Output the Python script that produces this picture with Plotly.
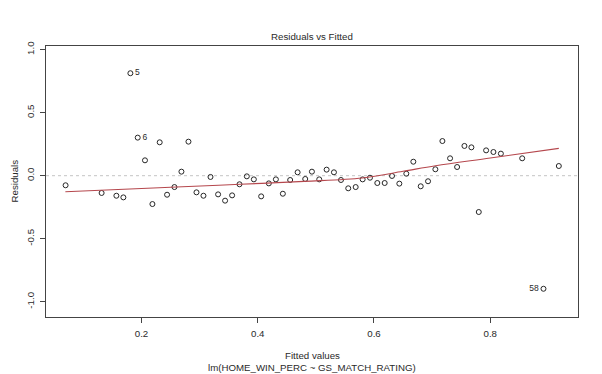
import plotly.graph_objects as go

# Fitted values and residuals
fitted = [0.0694, 0.1314, 0.1568, 0.1688, 0.1809, 0.1935, 0.2060, 0.2188, 0.2313, 0.2440,
          0.2567, 0.2687, 0.2808, 0.2946, 0.3066, 0.3187, 0.3318, 0.3438, 0.3559, 0.3686,
          0.3812, 0.3933, 0.4059, 0.4191, 0.4312, 0.4432, 0.4558, 0.4686, 0.4817, 0.4932,
          0.5058, 0.5185, 0.5311, 0.5432, 0.5557, 0.5685, 0.5805, 0.5931, 0.6057, 0.6184,
          0.6310, 0.6436, 0.6556, 0.6677, 0.6804, 0.6930, 0.7056, 0.7177, 0.7309, 0.7430,
          0.7556, 0.7676, 0.7803, 0.7929, 0.8055, 0.8183, 0.8550, 0.8916, 0.9180]
residuals = [-0.076, -0.137, -0.159, -0.172, 0.813, 0.302, 0.122, -0.225, 0.265, -0.151,
             -0.090, 0.032, 0.270, -0.132, -0.159, -0.010, -0.148, -0.198, -0.156, -0.068,
             -0.005, -0.029, -0.164, -0.061, -0.029, -0.143, -0.034, 0.027, -0.026, 0.032,
             -0.029, 0.048, 0.027, -0.034, -0.100, -0.090, -0.029, -0.016, -0.058, -0.058,
             -0.002, -0.063, 0.016, 0.111, -0.084, -0.044, 0.051, 0.275, 0.138, 0.069,
             0.236, 0.225, -0.288, 0.201, 0.188, 0.175, 0.138, -0.897, 0.077]

# Labelled observations (observation number, index into arrays above)
label_names = ["5", "6", "58"]
label_index = [4, 5, 57]
label_side = ["middle right", "middle right", "middle left"]

# Smoothed (lowess) curve
smooth_x = [0.069, 0.18, 0.26, 0.37, 0.48, 0.58, 0.65, 0.706, 0.80, 0.918]
smooth_y = [-0.127, -0.105, -0.090, -0.068, -0.045, -0.018, 0.035, 0.079, 0.140, 0.217]

x_ticks = [0.2, 0.4, 0.6, 0.8]
x_ticktext = ["0.2", "0.4", "0.6", "0.8"]
y_ticks = [-1.0, -0.5, 0.0, 0.5, 1.0]
y_ticktext = ["-1.0", "-0.5", "0.0", "0.5", "1.0"]

FONT = "Liberation Sans, Arial, sans-serif"
TXT = "#2a2a2a"
FS = 9.7

fig = go.Figure()
fig.add_trace(go.Scatter(
    x=fitted, y=residuals, mode="markers",
    marker=dict(symbol="circle-open", size=5, color="#262626", line=dict(width=1)),
    hoverinfo="x+y", showlegend=False))
fig.add_trace(go.Scatter(
    x=smooth_x, y=smooth_y, mode="lines", line=dict(color="#b5474d", width=1.1, shape="spline"),
    showlegend=False, hoverinfo="skip"))
fig.add_trace(go.Scatter(
    x=[fitted[i] for i in label_index], y=[residuals[i] for i in label_index],
    mode="text", text=["  " + t + "  " for t in label_names], textposition=label_side,
    textfont=dict(family=FONT, size=8.5, color=TXT), showlegend=False, hoverinfo="skip"))

fig.add_shape(type="line", xref="paper", x0=0, x1=1, yref="y", y0=0, y1=0,
              line=dict(color="#c4c4c4", width=1, dash="dot"), layer="below")

# The page body has an 8px default margin, so the figure is sized to fill the rest
fig.update_layout(
    width=594, height=366,
    margin=dict(l=38, r=24, t=38, b=57),
    paper_bgcolor="white", plot_bgcolor="white",
    font=dict(family=FONT, size=FS, color=TXT),
    xaxis=dict(range=[0.0357, 0.951], tickvals=x_ticks, ticktext=x_ticktext,
               automargin=False, ticklabelstandoff=2,
               showgrid=False, zeroline=False, showline=True, mirror=True,
               linecolor="#444444", linewidth=1, ticks="outside", ticklen=5,
               tickcolor="#444444", tickfont=dict(size=FS, color=TXT)),
    yaxis=dict(range=[-1.121, 1.029], tickvals=y_ticks, ticktext=y_ticktext,
               automargin=False, ticklabelstandoff=2,
               showgrid=False, zeroline=False, showline=True, mirror=True,
               linecolor="#444444", linewidth=1, ticks="outside", ticklen=5,
               tickcolor="#444444", tickangle=-90, tickfont=dict(size=FS, color=TXT)),
    annotations=[
        dict(text="Residuals vs Fitted", xref="paper", yref="paper", x=0.5, y=1,
             xanchor="center", yanchor="bottom", yshift=2, showarrow=False,
             font=dict(size=FS, color=TXT)),
        dict(text="Fitted values", xref="paper", yref="paper", x=0.5, y=0,
             xanchor="center", yanchor="middle", yshift=-38, showarrow=False,
             font=dict(size=FS, color=TXT)),
        dict(text="lm(HOME_WIN_PERC ~ GS_MATCH_RATING)", xref="paper", yref="paper",
             x=0.5, y=0, xanchor="center", yanchor="middle", yshift=-50, showarrow=False,
             font=dict(size=FS, color=TXT)),
        dict(text="Residuals", xref="paper", yref="paper", x=0, y=0.5, textangle=-90,
             xanchor="center", yanchor="middle", xshift=-32, showarrow=False,
             font=dict(size=FS, color=TXT)),
    ],
)

fig.write_html("out.html")
